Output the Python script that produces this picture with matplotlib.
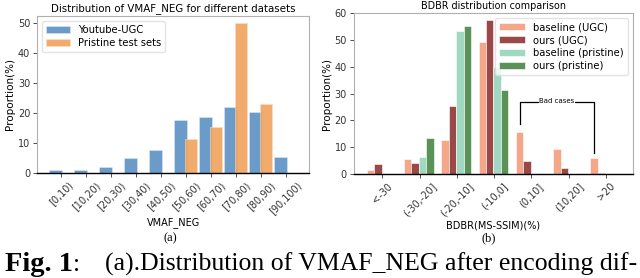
import matplotlib
matplotlib.use("Agg")
import matplotlib.pyplot as plt
import numpy as np

# ---- data (a)
vmaf_bins = ["[0,10)", "[10,20)", "[20,30)", "[30,40)", "[40,50)",
             "[50,60)", "[60,70)", "[70,80)", "[80,90)", "[90,100)"]
ugc_vals = [1.0, 1.0, 2.0, 5.0, 7.6, 17.8, 18.5, 22.0, 20.2, 5.4]
pristine_vals = [0, 0, 0, 0, 0, 11.3, 15.3, 50.0, 23.0, 0]

# ---- data (b)
bdbr_bins = ["<-30", "(-30,-20]", "(-20,-10]", "(-10,0]", "(0,10]", "(10,20]", ">20"]
base_ugc = [1.5, 5.7, 12.8, 49.3, 15.8, 9.3, 6.0]
ours_ugc = [3.6, 4.1, 25.2, 57.4, 4.8, 2.2, 0.4]
base_pri = [0, 6.5, 53.2, 39.9, 0, 0, 0]
ours_pri = [0, 13.3, 55.3, 31.2, 0, 0, 0]

fig = plt.figure(figsize=(6.4, 2.78), dpi=100)
plt.rcParams['font.family'] = ['DejaVu Sans']

def style(ax):
    for s in ['left', 'right', 'top']:
        ax.spines[s].set_color('#b0b0b0')
        ax.spines[s].set_linewidth(0.8)
    ax.spines['bottom'].set_color('black')
    ax.spines['bottom'].set_linewidth(1.0)
    ax.tick_params(labelsize=7, length=3, width=0.6, colors='#333333', pad=2)

# ---- (a)
ax1 = fig.add_axes([0.058, 0.378, 0.425, 0.566])
x = np.arange(len(vmaf_bins))
ax1.bar(x - 0.21, ugc_vals, width=0.5, color='#6b9bc9', edgecolor='#dce8f3',
        linewidth=0.4, label='Youtube-UGC')
ax1.bar(x + 0.2, pristine_vals, width=0.48, color='#f0a45f', alpha=0.92,
        edgecolor='#fbe0c5', linewidth=0.4, label='Pristine test sets')
ax1.set_xticks(x)
ax1.set_xticklabels(vmaf_bins, rotation=45)
ax1.set_yticks([0, 10, 20, 30, 40, 50])
style(ax1)
ax1.set_title("Distribution of VMAF_NEG for different datasets", fontsize=7.4, pad=3)
ax1.set_ylabel("Proportion(%)", fontsize=7.5, labelpad=2)
ax1.set_xlabel("VMAF_NEG", fontsize=7, labelpad=1)
ax1.legend(loc='upper left', fontsize=7.2, frameon=True, edgecolor='#dddddd',
           handlelength=2.4, borderpad=0.4, labelspacing=0.3)

# ---- (b)
ax2 = fig.add_axes([0.553, 0.374, 0.436, 0.579])
x2 = np.arange(len(bdbr_bins))
w = 0.2
offs = [-0.32, -0.12, 0.08, 0.28]
cols = ['#f4a889', '#9b4848', '#a0d8c1', '#5b9257']
labs = ['baseline (UGC)', 'ours (UGC)', 'baseline (pristine)', 'ours (pristine)']
for vals, o, c, l in zip([base_ugc, ours_ugc, base_pri, ours_pri], offs, cols, labs):
    ax2.bar(x2 + o, vals, width=w, color=c, edgecolor='white', linewidth=0.4, label=l)
ax2.set_xticks(x2)
ax2.set_xticklabels(bdbr_bins, rotation=45)
ax2.set_ylim(0, 60)
ax2.set_yticks([0, 10, 20, 30, 40, 50, 60])
style(ax2)
ax2.set_title("BDBR distribution comparison", fontsize=6.9, pad=3)
ax2.set_ylabel("Proportion(%)", fontsize=7.5, labelpad=2)
ax2.set_xlabel("BDBR(MS-SSIM)(%)", fontsize=7, labelpad=2)
ax2.legend(loc='upper right', fontsize=7.2, frameon=True, edgecolor='#dddddd',
           handlelength=2.6, borderpad=0.4, labelspacing=0.3)

# bad cases bracket
xa = x2[4] + offs[0]
xb = x2[6] + offs[0]
ytop = 27.0
ax2.plot([xa, xa, xb, xb], [base_ugc[4] + 2.8, ytop, ytop, base_ugc[6] + 1.8],
         color='black', linewidth=0.9)
ax2.text((xa + xb) / 2, ytop + 0.3, "Bad cases", fontsize=5, ha='center', va='center',
         bbox=dict(facecolor='white', edgecolor='none', pad=0.2))

# sub captions
fig.text(0.266, 0.143, "(a)", fontsize=9, family='Liberation Serif', ha='center', va='center')
fig.text(0.763, 0.143, "(b)", fontsize=9, family='Liberation Serif', ha='center', va='center')

# figure caption
fig.canvas.draw()
r = fig.canvas.get_renderer()
t1 = fig.text(0.008, 0.025, "Fig. 1", fontsize=20.5, family='Liberation Serif',
              fontweight='bold', va='baseline')
bb = t1.get_window_extent(renderer=r)
x0 = bb.x1 / fig.bbox.width
t1b = fig.text(x0, 0.025, ":", fontsize=18.5, family='Liberation Serif', va='baseline')
x1 = x0 + 0.05
t2 = fig.text(x1, 0.025, "(a).Distribution of VMAF_NEG after encoding dif-", fontsize=18.5,
              family='Liberation Serif', va='baseline')

fig.savefig("out.png", dpi=100)
